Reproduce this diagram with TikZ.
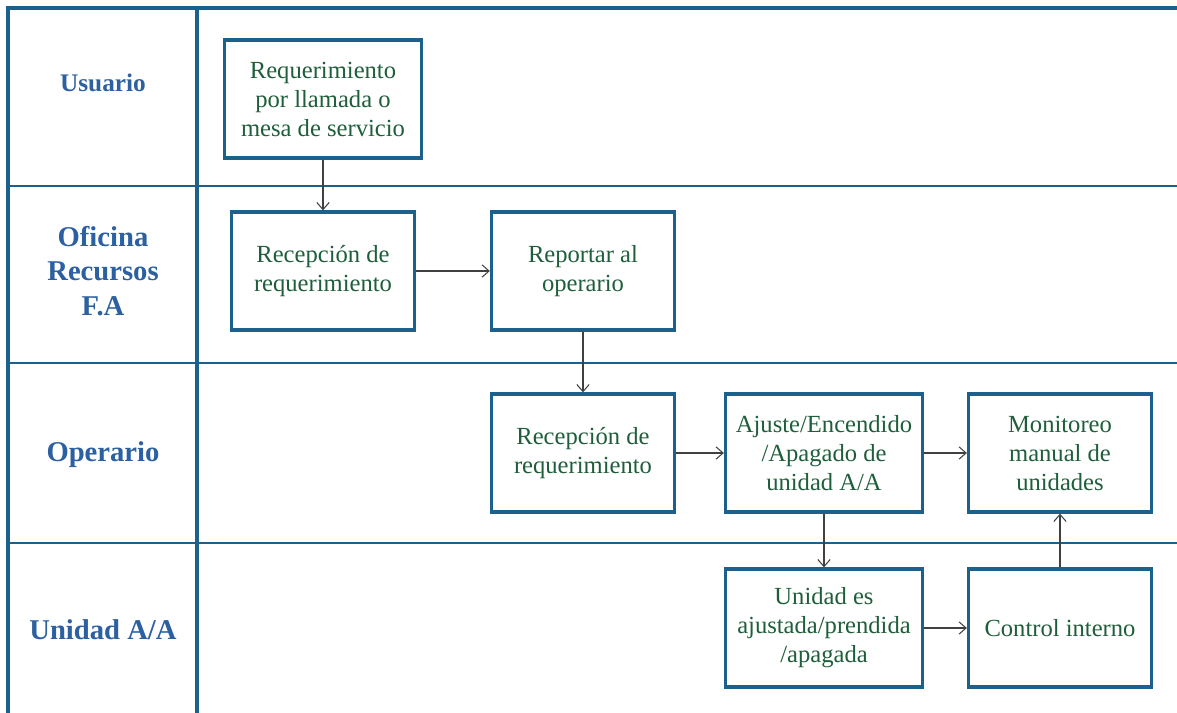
\documentclass[tikz,border=0pt]{standalone}
\usepackage{fontspec}
\setmainfont{Liberation Serif}
\usetikzlibrary{positioning,arrows.meta}
\definecolor{laneblue}{RGB}{28,96,140}
\definecolor{labelblue}{RGB}{44,96,160}
\definecolor{textgreen}{RGB}{30,94,58}

\begin{document}
\begin{tikzpicture}[x=0.02cm, y=-0.02cm]
    \tikzstyle{lane}=[draw=laneblue, line width=1.2pt]
    \tikzstyle{laneouter}=[draw=laneblue, line width=2pt]
    \tikzstyle{actbox}=[draw=laneblue, line width=1.9pt, align=center, text=textgreen, font=\fontsize{14}{16.5}\selectfont, minimum height=2.36cm, inner sep=2pt]
    \tikzstyle{narrow}=[actbox, minimum width=3.66cm]
    \tikzstyle{wide}=[actbox, minimum width=3.94cm]
    \tikzstyle{lanelabel}=[text=labelblue, align=center, font=\fontsize{16.3}{19.6}\selectfont\bfseries]
    \tikzstyle{edge}=[-{Straight Barb[length=4pt,width=7pt]}, draw=black!75, line width=0.6pt]

    \useasboundingbox (0,0) rectangle (1177,713);

    % lanes
    \draw[lane] (8,186) -- (1177,186);
    \draw[lane] (8,363) -- (1177,363);
    \draw[lane] (8,543) -- (1177,543);
    \draw[laneouter] (1177,8) -- (8,8) -- (8,713);
    \draw[laneouter] (197,8) -- (197,713);

    \node[lanelabel, font=\fontsize{14.4}{17}\selectfont\bfseries] (usuario) at (103, 83) {Usuario};
    \node[lanelabel] (oficina) at (103, 271) {Oficina\\Recursos\\F.A};
    \node[lanelabel] (operario) at (103, 455) {Operario};
    \node[lanelabel] (unidadaa) at (103, 630) {Unidad A/A};

    % activities
    \node[wide] (requerimiento) at (323, 99) {Requerimiento\\por llamada o\\mesa de servicio};
    \node[narrow] (recepcionA) at (323, 271) {Recepción de\\requerimiento};
    \node[narrow] (reportar) at (583, 271) {Reportar al\\operario};
    \node[narrow] (recepcionB) at (583, 453) {Recepción de\\requerimiento};
    \node[wide] (ajuste) at (824, 453) {Ajuste/Encendido\\/Apagado de\\unidad A/A};
    \node[narrow] (monitoreo) at (1060, 453) {Monitoreo\\manual de\\unidades};
    \node[wide] (unidad) at (824, 628) {Unidad es\\ajustada/prendida\\/apagada};
    \node[narrow] (control) at (1060, 628) {Control interno};

    \draw[edge] (requerimiento) -- (recepcionA);
    \draw[edge] (recepcionA) -- (reportar);
    \draw[edge] (reportar) -- (recepcionB);
    \draw[edge] (recepcionB) -- (ajuste);
    \draw[edge] (ajuste) -- (monitoreo);
    \draw[edge] (ajuste) -- (unidad);
    \draw[edge] (unidad) -- (control);
    \draw[edge] (control) -- (monitoreo);
\end{tikzpicture}
\end{document}
